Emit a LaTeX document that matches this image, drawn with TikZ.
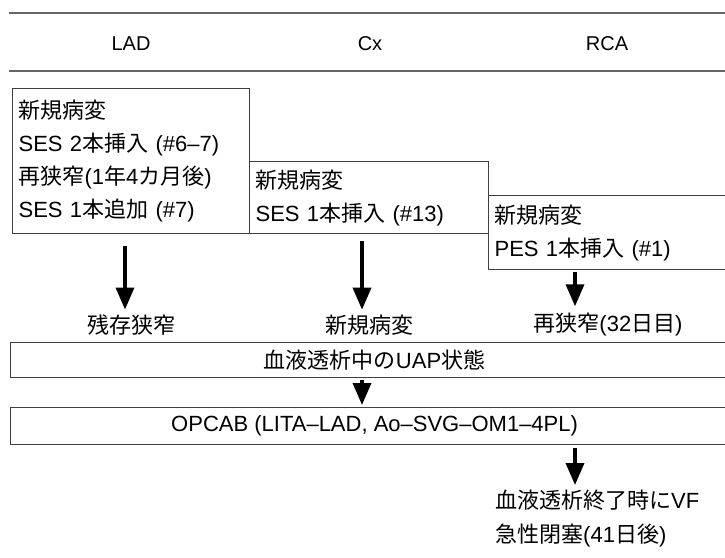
\documentclass[tikz,border=0pt]{standalone}
\usepackage{fontspec}
\setmainfont{Liberation Sans}
\newfontfamily\jp{Noto Sans CJK JP}
\usetikzlibrary{arrows.meta,positioning}
\tikzset{
  box/.style  = {draw=black!75, line width=1.2pt, align=left, anchor=north west,
                 inner sep=6pt, font=\fontsize{22}{33}\selectfont},
  wbox/.style = {draw=black!75, line width=1.2pt, anchor=north west,
                 inner sep=0pt, font=\fontsize{22}{26}\selectfont},
  hdr/.style  = {font=\fontsize{20}{24}\selectfont},
  lbl/.style  = {font=\fontsize{22}{26}\selectfont, inner sep=3pt},
  rule/.style = {draw=black!60, line width=2pt},
  ar/.style   = {-{Triangle[length=22pt,width=18pt]}, line width=3.5pt},
}
\begin{document}
\begin{tikzpicture}[x=1pt,y=-1pt]
  \useasboundingbox (0,0) rectangle (725,557);
  % header
  \draw[rule] (9,13) -- (725,13);
  \draw[rule] (9,71) -- (725,71);
  \node[hdr] (lad) at (131,44) {LAD};
  \node[hdr] (cx)  at (370,44) {Cx};
  \node[hdr] (rca) at (607,44) {RCA};
  \coordinate (ladx) at (125,0);
  \coordinate (cxx)  at (362,0);
  \coordinate (rcax) at (575,0);
  % stents per vessel
  \node[box, minimum width=237, minimum height=145, text width=225] (ladbox) at (12,88)
    {{\jp 新規病変}\\SES 2{\jp 本挿入} (\#6--7)\\{\jp 再狭窄}(1{\jp 年}4{\jp カ月後})\\SES 1{\jp 本追加} (\#7)};
  \node[box, minimum width=239, minimum height=72, text width=227] (cxbox) at (249,161)
    {{\jp 新規病変}\\SES 1{\jp 本挿入} (\#13)};
  \node[box, minimum width=250, minimum height=74, text width=238] (rcabox) at (488,195)
    {{\jp 新規病変}\\PES 1{\jp 本挿入} (\#1)};
  % findings
  \node[lbl] (res1) at (131,325) {\jp 残存狭窄};
  \node[lbl] (res2) at (369,325) {\jp 新規病変};
  \node[lbl] (res3) at (608,325) {{\jp 再狭窄}(32{\jp 日目})};
  \draw[ar, shorten <=12pt, shorten >=2pt] (ladbox.south -| ladx) -- (res1.north -| ladx);
  \draw[ar, shorten <=7pt, shorten >=2pt] (cxbox.south -| cxx) -- (res2.north -| cxx);
  \draw[ar, shorten <=2pt, shorten >=4pt] (rcabox.south -| rcax) -- (res3.north -| rcax);
  % course
  \node[wbox, minimum width=728, minimum height=35] (uap) at (10,342) {{\jp 血液透析中の}UAP{\jp 状態}};
  \node[wbox, minimum width=728, minimum height=37] (opcab) at (10,407)
    {OPCAB (LITA--LAD, Ao--SVG--OM1--4PL)};
  \draw[ar, shorten <=2pt, shorten >=2pt] (uap.south -| cxx) -- (opcab.north -| cxx);
  \node[lbl, align=left, anchor=north west, font=\fontsize{22}{34}\selectfont] (vf) at (492,487)
    {{\jp 血液透析終了時に}VF\\{\jp 急性閉塞}(41{\jp 日後})};
  \draw[ar, shorten <=3pt, shorten >=2pt] (opcab.south -| rcax) -- (vf.north -| rcax);
\end{tikzpicture}
\end{document}
